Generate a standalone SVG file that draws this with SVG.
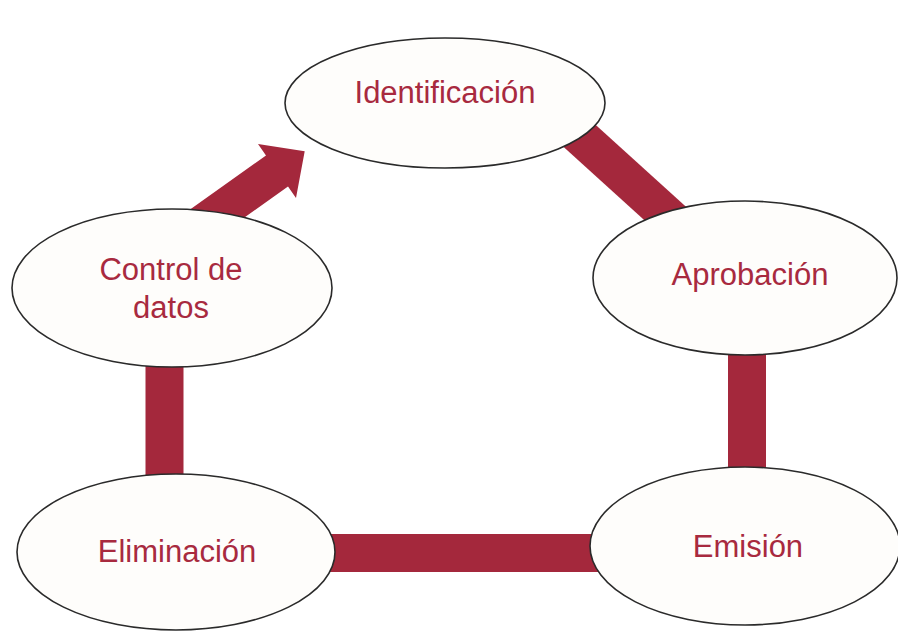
<svg xmlns="http://www.w3.org/2000/svg" width="898" height="631" viewBox="0 0 898 631">
<style>
.bar{stroke:#a4283c;stroke-width:38;fill:none}
.node ellipse{fill:#fefdfb;stroke:#2a2a2a;stroke-width:1.6}
.node text{fill:#a82a3f;font-family:"Liberation Sans",Arial,sans-serif;font-size:31px;text-anchor:middle}
</style>
<rect width="898" height="631" fill="#ffffff"/>
<g id="connectors">
<line class="bar" x1="540" y1="100" x2="700" y2="245"/>
<line class="bar" x1="747" y1="330" x2="747" y2="490"/>
<line class="bar" x1="310" y1="553" x2="610" y2="553"/>
<line class="bar" x1="164.5" y1="350" x2="164.5" y2="490"/>
<polygon fill="#a4283c" points="176,219.5 266,155.5 258,144 304.7,151.3 296,198 288,186.5 198,250.5"/>
</g>
<g id="identificacion" class="node">
<ellipse cx="445" cy="103" rx="160" ry="65"/>
<text x="445" y="103">Identificación</text>
</g>
<g id="aprobacion" class="node">
<ellipse cx="745" cy="278" rx="152" ry="77"/>
<text x="750" y="285">Aprobación</text>
</g>
<g id="emision" class="node">
<ellipse cx="745" cy="546" rx="155" ry="79"/>
<text x="748" y="557">Emisión</text>
</g>
<g id="eliminacion" class="node">
<ellipse cx="176" cy="552" rx="159" ry="78"/>
<text x="177" y="562">Eliminación</text>
</g>
<g id="control" class="node">
<ellipse cx="172" cy="288" rx="160" ry="79"/>
<text x="171" y="280">Control de</text>
<text x="171" y="318">datos</text>
</g>
</svg>
